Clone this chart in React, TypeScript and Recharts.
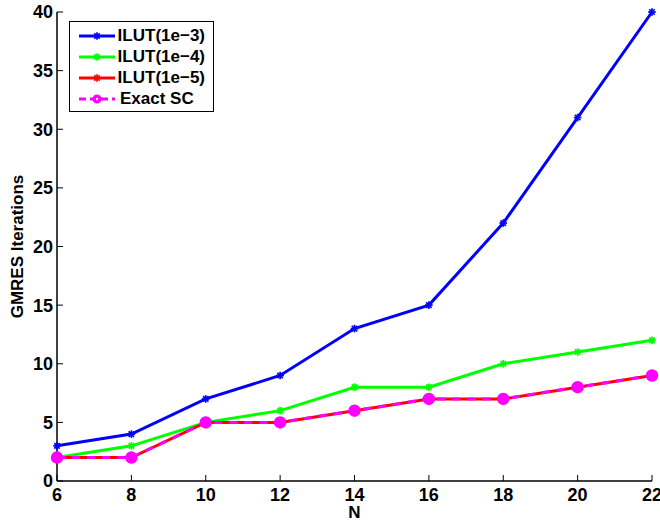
import React from 'react';
import { LineChart, Line, XAxis, YAxis, Legend } from 'recharts';

const nValues = [6, 8, 10, 12, 14, 16, 18, 20, 22];
const ilut3 = [3, 4, 7, 9, 13, 15, 22, 31, 40];
const ilut4 = [2, 3, 5, 6, 8, 8, 10, 11, 12];
const ilut5 = [2, 2, 5, 5, 6, 7, 7, 8, 9];
const exactSC = [2, 2, 5, 5, 6, 7, 7, 8, 9];
const xTicks = [6, 8, 10, 12, 14, 16, 18, 20, 22];
const yTicks = [0, 5, 10, 15, 20, 25, 30, 35, 40];

const data = nValues.map((n, i) => ({
  n,
  ilut3: ilut3[i],
  ilut4: ilut4[i],
  ilut5: ilut5[i],
  exact: exactSC[i],
}));

const FONT = '"Liberation Sans", Arial, Helvetica, sans-serif';

const series = [
  { key: 'ilut3', name: 'ILUT(1e\u22123)', color: '#0000ff', marker: 'star' },
  { key: 'ilut4', name: 'ILUT(1e\u22124)', color: '#00ff00', marker: 'star' },
  { key: 'ilut5', name: 'ILUT(1e\u22125)', color: '#ff0000', marker: 'star' },
  { key: 'exact', name: 'Exact SC', color: '#ff00ff', marker: 'circle' },
];

function Star({ cx, cy, color }: { cx: number; cy: number; color: string }) {
  const r = 3.8;
  const d = r * 0.72;
  return (
    <g stroke={color} strokeWidth={1.7}>
      <line x1={cx - r} y1={cy} x2={cx + r} y2={cy} />
      <line x1={cx} y1={cy - r} x2={cx} y2={cy + r} />
      <line x1={cx - d} y1={cy - d} x2={cx + d} y2={cy + d} />
      <line x1={cx - d} y1={cy + d} x2={cx + d} y2={cy - d} />
    </g>
  );
}

const starDot = (color: string) => (props: any) => {
  if (props.cx == null || props.cy == null) return <g key={props.index} />;
  return <Star key={props.index} cx={props.cx} cy={props.cy} color={color} />;
};

const circleDot = (props: any) => {
  if (props.cx == null || props.cy == null) return <g key={props.index} />;
  return <circle key={props.index} cx={props.cx} cy={props.cy} r={5} fill="#ff00ff" stroke="#ff00ff" strokeWidth={2.5} />;
};

function LegendBox({ payload }: any) {
  const order = series.map((s) => s.name);
  const items = [...(payload || [])].sort((a: any, b: any) => order.indexOf(a.value) - order.indexOf(b.value));
  return (
    <div
      style={{
        border: '1px solid #000',
        background: '#fff',
        padding: '3px 8px 2px 8px',
        fontFamily: FONT,
        fontWeight: 'bold',
        fontSize: 17,
        width: 127,
      }}
    >
      {items.map((entry: any) => {
        const s = series.find((x) => x.name === entry.value);
        return (
          <div key={entry.value} style={{ display: 'flex', alignItems: 'center', height: 21 }}>
            <svg width={44} height={14}>
              {s && s.marker === 'circle' ? (
                <g>
                  <line x1={1} y1={7} x2={37} y2={7} stroke="#ff00ff" strokeWidth={3} strokeDasharray="7 4" />
                  <circle cx={19} cy={7} r={3.5} fill="#ff00ff" stroke="#ff00ff" strokeWidth={2} />
                  <circle cx={19} cy={7} r={1.2} fill="#fff" />
                </g>
              ) : (
                <g>
                  <line x1={1} y1={7} x2={37} y2={7} stroke={entry.color} strokeWidth={3} />
                  <Star cx={19} cy={7} color={entry.color} />
                </g>
              )}
            </svg>
            <span style={{ marginLeft: -2, color: '#000' }}>{entry.value}</span>
          </div>
        );
      })}
    </div>
  );
}

const tickStyle = { fontFamily: FONT, fontWeight: 'bold', fontSize: 18, fill: '#000' };
const hiddenTick = { fontSize: 0, fill: 'none' };

export default function App() {
  return (
    <div style={{ position: 'absolute', left: 0, top: 0, width: 660, height: 524, background: '#fff' }}>
      <LineChart width={660} height={524} data={data} margin={{ top: 12, right: 8, bottom: 0, left: 0 }}>
        <XAxis
          xAxisId="main"
          dataKey="n"
          type="number"
          domain={[6, 22]}
          ticks={xTicks}
          height={43}
          tickSize={-6}
          tickMargin={13}
          tick={tickStyle}
          stroke="#000"
          axisLine={{ stroke: '#000', strokeWidth: 1.5 }}
          tickLine={{ stroke: '#000' }}
          interval={0}
          label={(props: any) => {
            const vb = props.viewBox;
            return (
              <text
                x={vb.x + vb.width / 2}
                y={vb.y + 37}
                textAnchor="middle"
                style={{ fontFamily: FONT, fontWeight: 'bold', fontSize: 17 }}
                fill="#000"
              >
                N
              </text>
            );
          }}
        />
        <XAxis
          xAxisId="top"
          dataKey="n"
          type="number"
          orientation="top"
          domain={[6, 22]}
          ticks={xTicks}
          height={0}
          tickSize={-6}
          tick={hiddenTick}
          axisLine={{ stroke: '#000', strokeWidth: 1.5 }}
          tickLine={{ stroke: '#000' }}
          interval={0}
        />
        <YAxis
          yAxisId="main"
          domain={[0, 40]}
          ticks={yTicks}
          width={57}
          tickSize={-6}
          tickMargin={10}
          tick={tickStyle}
          axisLine={{ stroke: '#000', strokeWidth: 1.5 }}
          tickLine={{ stroke: '#000' }}
          interval={0}
          label={(props: any) => {
            const vb = props.viewBox;
            const x = vb.x + 23;
            const y = vb.y + vb.height / 2;
            return (
              <text
                x={x}
                y={y}
                transform={`rotate(-90 ${x} ${y})`}
                textAnchor="middle"
                style={{ fontFamily: FONT, fontWeight: 'bold', fontSize: 17 }}
                fill="#000"
              >
                GMRES Iterations
              </text>
            );
          }}
        />
        <YAxis
          yAxisId="right"
          orientation="right"
          domain={[0, 40]}
          ticks={yTicks}
          width={0}
          tickSize={-6}
          tick={hiddenTick}
          axisLine={{ stroke: '#000', strokeWidth: 1.5 }}
          tickLine={{ stroke: '#000' }}
          interval={0}
        />
        <Legend
          layout="vertical"
          align="center"
          verticalAlign="middle"
          content={<LegendBox />}
          wrapperStyle={{ position: 'absolute', left: 69, top: 21, width: 'auto' }}
        />
        {series.slice(0, 3).map((s) => (
          <Line
            key={s.key}
            xAxisId="main"
            yAxisId="main"
            dataKey={s.key}
            name={s.name}
            stroke={s.color}
            strokeWidth={3}
            dot={starDot(s.color)}
            activeDot={false}
            isAnimationActive={false}
          />
        ))}
        <Line
          xAxisId="main"
          yAxisId="main"
          dataKey="exact"
          name="Exact SC"
          stroke="#ff00ff"
          strokeWidth={3}
          strokeDasharray="8 7"
          dot={circleDot}
          activeDot={false}
          isAnimationActive={false}
        />
      </LineChart>
    </div>
  );
}
